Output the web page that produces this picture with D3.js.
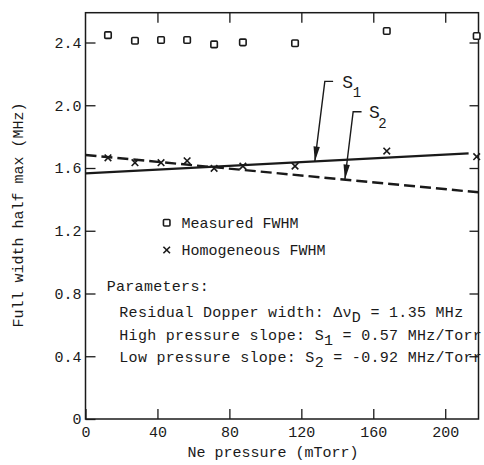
<!DOCTYPE html>
<html>
<head>
<meta charset="utf-8">
<script src="https://cdn.jsdelivr.net/npm/d3@7"></script>
<style>
  html, body { margin: 0; padding: 0; background: #fff; }
  svg { display: block; }
  text { font-family: "Liberation Mono", "DejaVu Sans Mono", monospace; fill: #1a1a1a; }
</style>
</head>
<body>
<svg id="chart" width="484" height="465"></svg>
<script>
// ---- data ----
const pressure    = [12.5, 27.5, 42, 56.5, 71.5, 87.5, 116.5, 167.5, 217.5];      // mTorr
const measured    = [2.447, 2.411, 2.416, 2.416, 2.388, 2.401, 2.395, 2.473, 2.441]; // MHz
const homogeneous = [1.665, 1.634, 1.634, 1.646, 1.598, 1.612, 1.612, 1.708, 1.672]; // MHz
const s1Pressure  = [0, 213];        // solid fit line (high pressure slope)
const s1Width     = [1.566, 1.693];
const s2Pressure  = [0, 218.5];      // dashed fit line (low pressure slope)
const s2Width     = [1.683, 1.445];
const xTicks      = [0, 40, 80, 120, 160, 200];
const yTicks      = [0, 0.4, 0.8, 1.2, 1.6, 2.0, 2.4];
const yTickLabels = ["0", "0.4", "0.8", "1.2", "1.6", "2.0", "2.4"];
const legendLabels = ["Measured FWHM", "Homogeneous FWHM"];

const svg = d3.select("#chart");
const x = d3.scaleLinear().domain([0, 218.5]).range([85.5, 478.5]);
const y = d3.scaleLinear().domain([0, 2.59]).range([419, 12.7]);
const ink = "#1a1a1a";

// frame
svg.append("rect")
  .attr("x", x(0)).attr("y", y(2.59))
  .attr("width", x(218.5) - x(0)).attr("height", y(0) - y(2.59))
  .attr("fill", "none").attr("stroke", ink).attr("stroke-width", 1.5);

function styleAxis(g) {
  g.select(".domain").remove();
  g.selectAll(".tick line").attr("stroke", ink).attr("stroke-width", 1.3);
  g.selectAll(".tick text").attr("fill", ink)
    .style("font-family", '"Liberation Mono", "DejaVu Sans Mono", monospace')
    .style("font-size", "15px");
}

// left axis
svg.append("g").attr("transform", `translate(${x(0)},0)`)
  .call(d3.axisLeft(y).tickValues(yTicks).tickFormat((d, i) => yTickLabels[i])
        .tickSizeInner(-10).tickSizeOuter(0).tickPadding(4))
  .call(styleAxis);
// right axis ticks
svg.append("g").attr("transform", `translate(${x(218.5)},0)`)
  .call(d3.axisRight(y).tickValues(yTicks.slice(1)).tickFormat("")
        .tickSizeInner(-9).tickSizeOuter(0))
  .call(styleAxis);
// bottom axis
svg.append("g").attr("transform", `translate(0,${y(0)})`)
  .call(d3.axisBottom(x).tickValues(xTicks).tickFormat(d3.format("d"))
        .tickSizeInner(-10).tickSizeOuter(0).tickPadding(7))
  .call(styleAxis);
// top axis ticks
svg.append("g").attr("transform", `translate(0,${y(2.59)})`)
  .call(d3.axisTop(x).tickValues(xTicks.slice(1)).tickFormat("")
        .tickSizeInner(-10).tickSizeOuter(0))
  .call(styleAxis);

// axis titles
svg.append("text")
  .attr("x", (x(0) + x(218.5)) / 2 - 9).attr("y", 457)
  .attr("text-anchor", "middle").style("font-size", "15px")
  .text("Ne pressure (mTorr)");
svg.append("text")
  .attr("transform", `translate(23,${y(1.3)}) rotate(-90)`)
  .attr("text-anchor", "middle").style("font-size", "15px")
  .text("Full width half max (MHz)");

// fit lines
const line = d3.line().x(d => x(d[0])).y(d => y(d[1]));
svg.append("path")
  .datum(s1Pressure.map((p, i) => [p, s1Width[i]]))
  .attr("d", line).attr("fill", "none").attr("stroke", ink).attr("stroke-width", 2.2);
svg.append("path")
  .datum(s2Pressure.map((p, i) => [p, s2Width[i]]))
  .attr("d", line).attr("fill", "none").attr("stroke", ink).attr("stroke-width", 2.4)
  .attr("stroke-dasharray", "11,5");

// markers
const sq = 6.5, cr = 3.3;
svg.append("g").selectAll("rect").data(pressure.map((p, i) => [p, measured[i]]))
  .join("rect")
  .attr("x", d => x(d[0]) - sq / 2).attr("y", d => y(d[1]) - sq / 2)
  .attr("width", sq).attr("height", sq).attr("rx", 1)
  .attr("fill", "#fff").attr("stroke", ink).attr("stroke-width", 1.6);

function cross(g, cx, cy) {
  g.append("path")
    .attr("d", `M${cx - cr},${cy - cr}L${cx + cr},${cy + cr}M${cx - cr},${cy + cr}L${cx + cr},${cy - cr}`)
    .attr("stroke", ink).attr("stroke-width", 1.6).attr("fill", "none");
}
const crossG = svg.append("g");
pressure.forEach((p, i) => cross(crossG, x(p), y(homogeneous[i])));

// arrow annotations
function lineAt(px, ps, ws) {
  const t = (px - ps[0]) / (ps[1] - ps[0]);
  return ws[0] + t * (ws[1] - ws[0]);
}
function annotate(pAt, ps, ws, knee, hEnd, labX, labY, sub, subDx, subDy) {
  const tx = x(pAt), ty = y(lineAt(pAt, ps, ws));
  const kx = tx + knee[0], ky = ty + knee[1];
  svg.append("path")
    .attr("d", `M${tx + hEnd},${ky}L${kx},${ky}L${tx},${ty}`)
    .attr("fill", "none").attr("stroke", ink).attr("stroke-width", 1.4);
  const dx = tx - kx, dy = ty - ky, L = Math.hypot(dx, dy);
  const ux = dx / L, uy = dy / L, hl = 15, hw = 3.2;
  const bx = tx - ux * hl, by = ty - uy * hl;
  svg.append("path")
    .attr("d", `M${tx},${ty}L${bx - uy * hw},${by + ux * hw}L${bx + uy * hw},${by - ux * hw}Z`)
    .attr("fill", ink);
  const t = svg.append("text").attr("x", tx + labX).attr("y", ty + labY).style("font-size", "18px");
  t.append("tspan").text("S");
  t.append("tspan").attr("dx", subDx).attr("dy", subDy).style("font-size", "14px").text(sub);
}
annotate(127.5, s1Pressure, s1Width, [10, -80], 18.3, 27.5, -73.2, "1", -0.5, 8.4);
annotate(144.2, s2Pressure, s2Width, [8.3, -67.9], 16.7, 24.2, -61.3, "2", -1.5, 10);

// legend
const lg = svg.append("g");
lg.append("rect").attr("x", 166.7 - sq / 2).attr("y", 222.7 - sq / 2)
  .attr("width", sq).attr("height", sq).attr("rx", 1)
  .attr("fill", "#fff").attr("stroke", ink).attr("stroke-width", 1.6);
lg.append("text").attr("x", 181.5).attr("y", 227.5).style("font-size", "15px").text(legendLabels[0]);
cross(lg, 166.7, 250);
lg.append("text").attr("x", 181.5).attr("y", 255).style("font-size", "15px").text(legendLabels[1]);

// parameters block
const pg = svg.append("g").style("font-size", "15px").style("letter-spacing", "0.3px");
pg.append("text").attr("x", 106.7).attr("y", 290.7).text("Parameters:");
const p1 = pg.append("text").attr("x", 119.3).attr("y", 316.7);
p1.append("tspan").text("Residual Dopper width: \u0394\u03bd");
p1.append("tspan").attr("dy", 5).text("D");
p1.append("tspan").attr("dy", -5).text(" = 1.35 MHz");
const p2 = pg.append("text").attr("x", 119.3).attr("y", 340);
p2.append("tspan").text("High pressure slope: S");
p2.append("tspan").attr("dy", 5).text("1");
p2.append("tspan").attr("dy", -5).text(" = 0.57 MHz/Torr");
const p3 = pg.append("text").attr("x", 119.3).attr("y", 361.7);
p3.append("tspan").text("Low pressure slope: S");
p3.append("tspan").attr("dy", 5).text("2");
p3.append("tspan").attr("dy", -5).text(" = -0.92 MHz/Torr");
</script>
</body>
</html>
